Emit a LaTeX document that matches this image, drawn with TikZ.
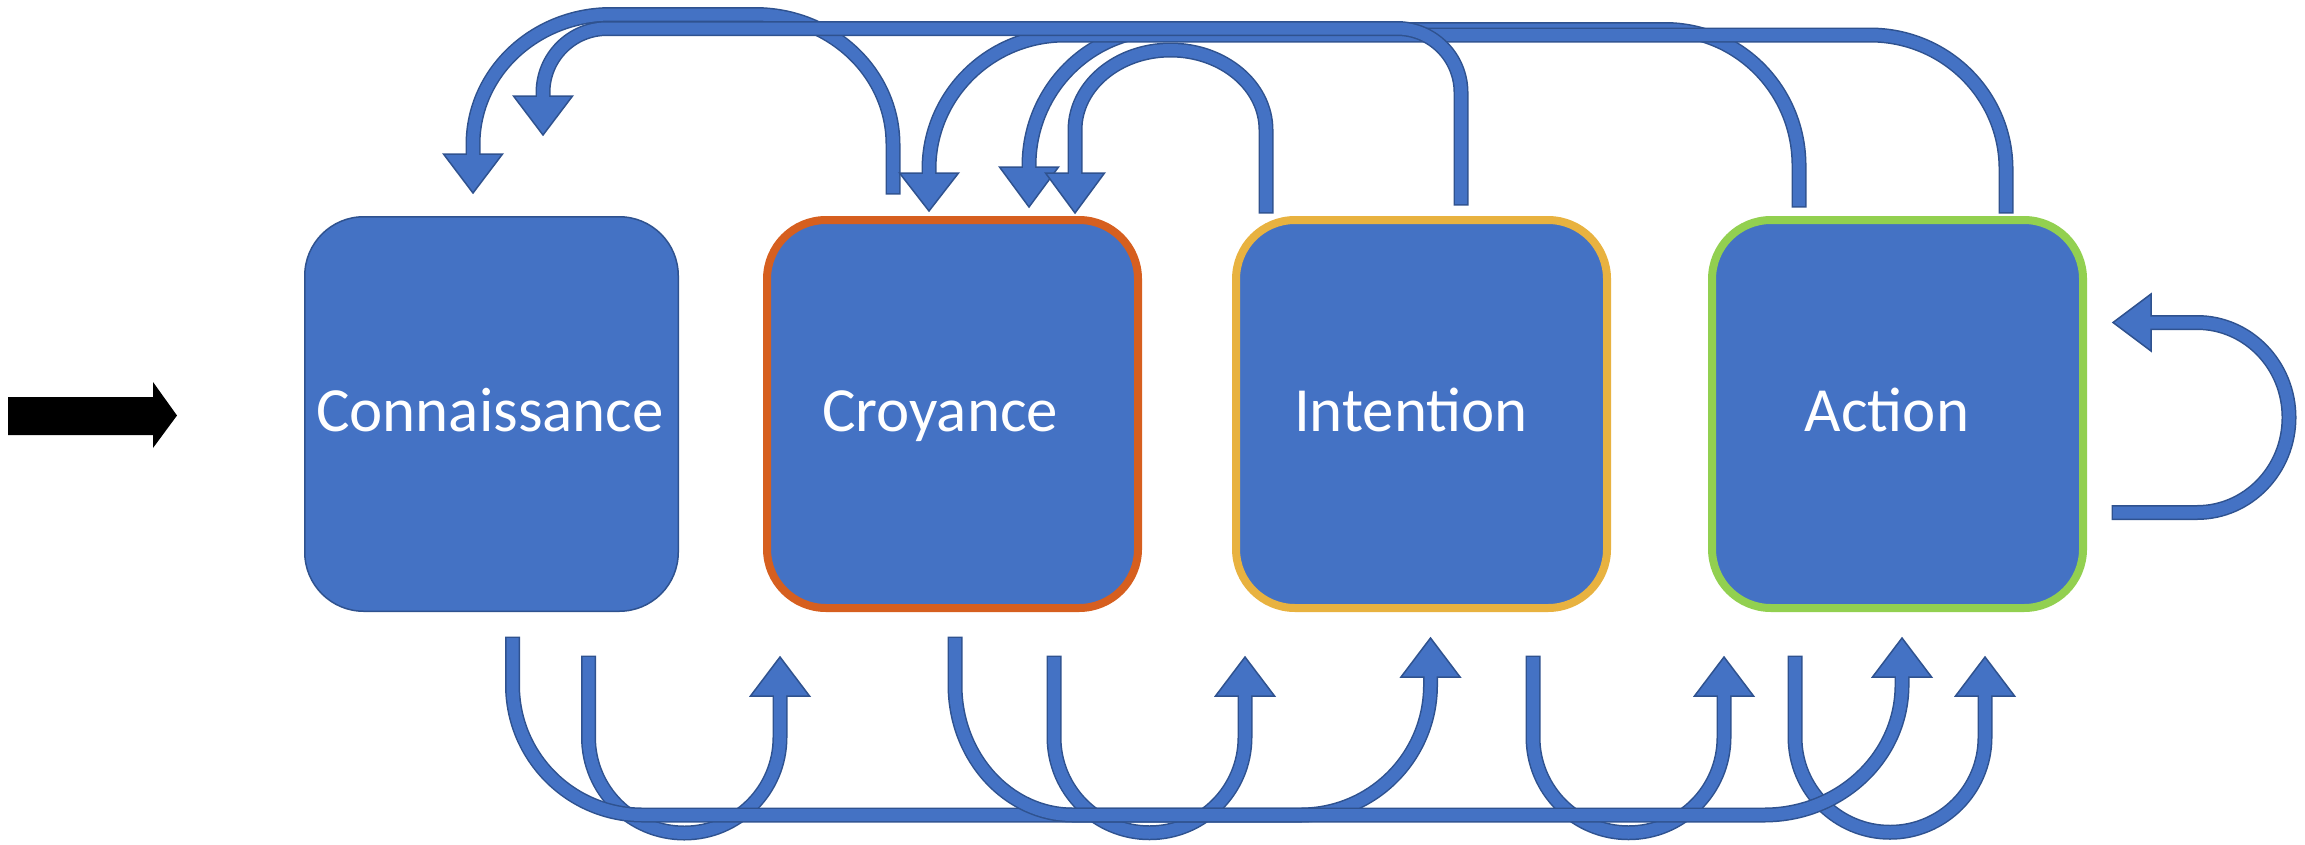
\documentclass[tikz,border=0pt]{standalone}
\usepackage{fontspec}
\setmainfont{Carlito}
\usetikzlibrary{calc}
\definecolor{bfill}{HTML}{4472C4}
\definecolor{bline}{HTML}{2F528F}
\definecolor{corange}{HTML}{D65F1F}
\definecolor{cyellow}{HTML}{E8B240}
\definecolor{cgreen}{HTML}{92D050}
\newcommand{\blockarrow}[4]{%
  \draw[line width=1.5mm, draw=bline, shorten <=-0.15mm] #1;
  \filldraw[fill=bfill, draw=bline, line width=0.15mm, line join=miter]
     ($(#2)+(#4)$) -- (#3) -- ($(#2)-(#4)$) -- cycle;
  \draw[line width=1.2mm, draw=bfill, shorten >=-0.4mm] #1;
}
\tikzset{
  box/.style={rectangle, rounded corners=5.9mm, fill=bfill, inner sep=0pt},
  lbl/.style={text=white, font=\fontsize{17.9pt}{21pt}\selectfont, inner sep=0pt, anchor=base},
}
\begin{document}
\begin{tikzpicture}[x=0.1mm, y=0.1mm]
\useasboundingbox (0,0) rectangle (2305,844);
% boxes
\node[box, draw=bline, line width=0.15mm, minimum width=37.35mm, minimum height=39.45mm] (b1) at (491.5,430) {};
\node[box, draw=corange, line width=0.8mm, minimum width=37.1mm, minimum height=38.8mm] (b2) at (952.5,430) {};
\node[box, draw=cyellow, line width=0.8mm, minimum width=37.1mm, minimum height=38.8mm] (b3) at (1421.5,430) {};
\node[box, draw=cgreen, line width=0.8mm, minimum width=37.1mm, minimum height=38.8mm] (b4) at (1897.5,430) {};
\node[lbl] (l1) at (490,413) {Connaissance};
\node[lbl] (l2) at (940,413) {Croyance};
\node[lbl] (l3) at (1411,413) {Intention};
\node[lbl] (l4) at (1887,413) {Action};
% entry arrow
\fill[black] (8,447) -- (153,447) -- (153,462) -- (177,428.5) -- (153,396) -- (153,409) -- (8,409) -- cycle;
% top arrows
\coordinate (tA) at (893,651); \coordinate (hA) at (473,690); \coordinate (pA) at (473,651);
\coordinate (tB) at (1461,640); \coordinate (hB) at (543,748); \coordinate (pB) at (543,709);
\coordinate (tC) at (2006,632); \coordinate (hC) at (929,671); \coordinate (pC) at (929,633);
\coordinate (tD) at (1799,638); \coordinate (hD) at (1029,677); \coordinate (pD) at (1029,637);
\coordinate (tE) at (1266,632); \coordinate (hE) at (1075,671); \coordinate (pE) at (1075,631);
\blockarrow{(tA) -- (893,699.5) arc[start angle=0,end angle=90,x radius=138,y radius=130] -- (611,829.5) arc[start angle=90,end angle=180,x radius=138,y radius=130] -- (hA)}{hA}{pA}{29.5,0}
\blockarrow{(tD) -- (1799,678.5) arc[start angle=0,end angle=90,x radius=134,y radius=136] -- (1163,814.5) arc[start angle=90,end angle=180,x radius=134,y radius=136] -- (hD)}{hD}{pD}{29.5,0}
\blockarrow{(tC) -- (2006,675) arc[start angle=0,end angle=90,x radius=136,y radius=134] -- (1065,809) arc[start angle=90,end angle=180,x radius=136,y radius=134] -- (hC)}{hC}{pC}{29.5,0}
\blockarrow{(tB) -- (1461,751.5) arc[start angle=0,end angle=90,radius=64] -- (607,815.5) arc[start angle=90,end angle=180,radius=64] -- (hB)}{hB}{pB}{29.5,0}
\blockarrow{(tE) -- (1266,714) arc[start angle=0,end angle=180,x radius=95.5,y radius=80] -- (hE)}{hE}{pE}{29.5,0}
% bottom arrows
\coordinate (tG1) at (588.5,187); \coordinate (hG1) at (780,148); \coordinate (pG1) at (780,187);
\coordinate (tG2) at (1054,187); \coordinate (hG2) at (1245,148); \coordinate (pG2) at (1245,187);
\coordinate (tG3) at (1533,187); \coordinate (hG3) at (1724,148); \coordinate (pG3) at (1724,187);
\coordinate (tG4) at (1795,187); \coordinate (hG4) at (1985,148); \coordinate (pG4) at (1985,187);
\coordinate (tF) at (512.5,206); \coordinate (hF) at (1430.5,167); \coordinate (pF) at (1430.5,206);
\coordinate (tH) at (955,206); \coordinate (hH) at (1902,167); \coordinate (pH) at (1902,206);
\blockarrow{(tG1) -- (588.5,106.75) arc[start angle=180,end angle=360,radius=95.75] -- (hG1)}{hG1}{pG1}{29.5,0}
\blockarrow{(tG2) -- (1054,106.75) arc[start angle=180,end angle=360,radius=95.5] -- (hG2)}{hG2}{pG2}{29.5,0}
\blockarrow{(tG3) -- (1533,106.75) arc[start angle=180,end angle=360,radius=95.5] -- (hG3)}{hG3}{pG3}{29.5,0}
\blockarrow{(tG4) -- (1795,106.75) arc[start angle=180,end angle=360,radius=95] -- (hG4)}{hG4}{pG4}{29.5,0}
\blockarrow{(tF) -- (512.5,159) arc[start angle=180,end angle=270,radius=130] -- (1300.5,29) arc[start angle=270,end angle=360,radius=130] -- (hF)}{hF}{pF}{29.5,0}
\blockarrow{(tH) -- (955,159) arc[start angle=180,end angle=270,x radius=118,y radius=130] -- (1764,29) arc[start angle=270,end angle=360,x radius=138,y radius=130] -- (hH)}{hH}{pH}{29.5,0}
% self loop on Action
\coordinate (tL) at (2113,331.5); \coordinate (hL) at (2151,521.5); \coordinate (pL) at (2113,521.5);
\blockarrow{(tL) -- (2197,331.5) arc[start angle=-90,end angle=90,x radius=92,y radius=95] -- (hL)}{hL}{pL}{0,28.5}
\end{tikzpicture}
\end{document}
